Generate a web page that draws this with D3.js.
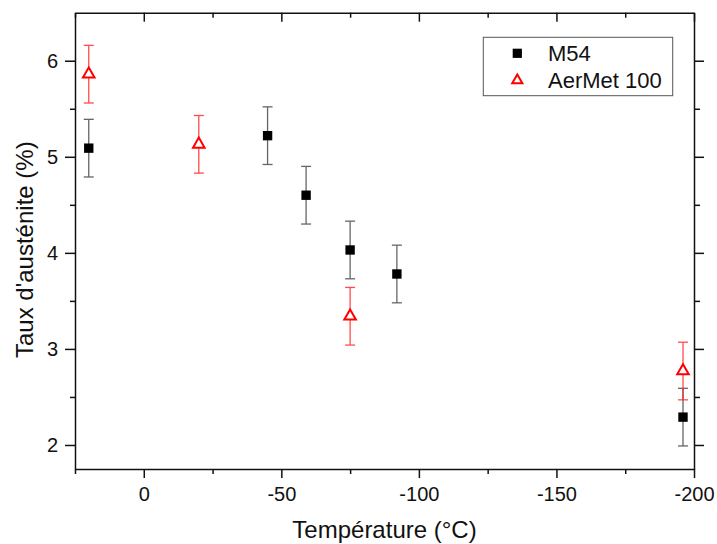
<!DOCTYPE html>
<html>
<head>
<meta charset="utf-8">
<script src="https://cdn.jsdelivr.net/npm/d3@7"></script>
<style>
  body { margin: 0; background: #fff; }
  svg text { font-family: "Liberation Sans", Arial, sans-serif; fill: #111; }
</style>
</head>
<body>
<div class="chart"></div>
<script>
// M54 (black squares)
const m54Temp = [20, -45, -59, -75, -92, -196];
const m54Value = [5.09, 5.22, 4.6, 4.03, 3.78, 2.29];
const m54Err = [0.3, 0.3, 0.3, 0.3, 0.3, 0.3];

// AerMet 100 (red triangles)
const aerTemp = [20, -20, -75, -196];
const aerValue = [5.86, 5.13, 3.34, 2.77];
const aerErr = [0.3, 0.3, 0.3, 0.3];

const xTicks = [0, -50, -100, -150, -200];
const yTicks = [2, 3, 4, 5, 6];
const legendNames = ["M54", "AerMet 100"];

var margin = { top: 12.7, right: 23, bottom: 75, left: 75 };
const width = 717 - margin.left - margin.right;
const height = 544 - margin.top - margin.bottom;

var svg = d3
  .select(".chart")
  .append("svg")
  .attr("width", 717)
  .attr("height", 544)
  .append("g")
  .attr("transform", "translate(" + margin.left + "," + margin.top + ")");

// scales
var x = d3.scaleLinear().domain([25, -200]).range([0, width]);
var y = d3.scaleLinear().domain([1.75, 6.5]).range([height, 0]);

const xMinor = d3.range(25, -201, -25).filter((d) => d % 50 !== 0);
const yMinor = d3.range(2.5, 6.5, 1);

// plain hyphen like the original, not the unicode minus
const fmt = (d) => String(d);

function styleAxis(g) {
  g.selectAll("path, line").attr("stroke", "#111").attr("stroke-width", 1.5);
  g.selectAll("text").style("font-size", "20px");
}

// bottom axis
svg.append("g")
  .attr("transform", "translate(0," + height + ")")
  .call(d3.axisBottom(x).tickValues(xTicks).tickSize(9).tickSizeOuter(0).tickPadding(9).tickFormat(fmt))
  .call(styleAxis);
svg.append("g")
  .attr("transform", "translate(0," + height + ")")
  .call(d3.axisBottom(x).tickValues(xMinor).tickSize(5).tickFormat(""))
  .call((g) => g.select(".domain").remove())
  .call(styleAxis);

// top axis (ticks inward)
svg.append("g")
  .call(d3.axisBottom(x).tickValues(xTicks).tickSize(9).tickSizeOuter(0).tickFormat(""))
  .call(styleAxis);
svg.append("g")
  .call(d3.axisBottom(x).tickValues(xMinor).tickSize(5).tickFormat(""))
  .call((g) => g.select(".domain").remove())
  .call(styleAxis);

// left axis
svg.append("g")
  .call(d3.axisLeft(y).tickValues(yTicks).tickSize(10).tickSizeOuter(0).tickPadding(7).tickFormat(fmt))
  .call(styleAxis);
svg.append("g")
  .call(d3.axisLeft(y).tickValues(yMinor).tickSize(5).tickFormat(""))
  .call((g) => g.select(".domain").remove())
  .call(styleAxis);

// right axis
svg.append("g")
  .attr("transform", "translate(" + width + ",0)")
  .call(d3.axisRight(y).tickValues(yTicks).tickSize(10).tickSizeOuter(0).tickFormat(""))
  .call(styleAxis);
svg.append("g")
  .attr("transform", "translate(" + width + ",0)")
  .call(d3.axisRight(y).tickValues(yMinor).tickSize(6).tickFormat(""))
  .call((g) => g.select(".domain").remove())
  .call(styleAxis);

// axis titles
svg.append("text")
  .attr("x", width / 2)
  .attr("y", height + 69)
  .attr("text-anchor", "middle")
  .style("font-size", "24px")
  .text("Température (°C)");

svg.append("text")
  .attr("transform", "translate(-42,237) rotate(-90)")
  .attr("text-anchor", "middle")
  .style("font-size", "24px")
  .text("Taux d'austénite (%)");

// error bars
function errorBars(temps, vals, errs, color, opacity) {
  const g = svg.append("g").attr("stroke", color).attr("stroke-width", 1.3).attr("opacity", opacity);
  temps.forEach((t, i) => {
    const cx = x(t);
    const y1 = y(vals[i] + errs[i]);
    const y2 = y(vals[i] - errs[i]);
    g.append("line").attr("x1", cx).attr("x2", cx).attr("y1", y1).attr("y2", y2);
    g.append("line").attr("x1", cx - 5).attr("x2", cx + 5).attr("y1", y1).attr("y2", y1);
    g.append("line").attr("x1", cx - 5).attr("x2", cx + 5).attr("y1", y2).attr("y2", y2);
  });
}

errorBars(m54Temp, m54Value, m54Err, "#333", 0.75);
errorBars(aerTemp, aerValue, aerErr, "#ff2020", 0.8);

const square = d3.symbol().type(d3.symbolSquare).size(88);
const triangle = d3.symbol().type(d3.symbolTriangle).size(58);

svg.append("g")
  .selectAll("path")
  .data(m54Temp)
  .enter()
  .append("path")
  .attr("d", square)
  .attr("transform", (d, i) => "translate(" + x(d) + "," + y(m54Value[i]) + ")")
  .attr("fill", "#000");

svg.append("g")
  .selectAll("path")
  .data(aerTemp)
  .enter()
  .append("path")
  .attr("d", triangle)
  .attr("transform", (d, i) => "translate(" + x(d) + "," + y(aerValue[i]) + ")")
  .attr("fill", "#fff")
  .attr("stroke", "#ff0000")
  .attr("stroke-width", 2);

// legend
const lx = 483.3 - margin.left;
const ly = 37.3 - margin.top;
const legend = svg.append("g").attr("transform", "translate(" + lx + "," + ly + ")");
legend.append("rect")
  .attr("width", 189.4)
  .attr("height", 58.4)
  .attr("fill", "#fff")
  .attr("stroke", "#555")
  .attr("stroke-width", 1);

legend.selectAll("legendSym")
  .data(legendNames)
  .enter()
  .append("path")
  .attr("d", (d, i) => (i === 0 ? d3.symbol().type(d3.symbolSquare).size(85)() : d3.symbol().type(d3.symbolTriangle).size(45)()))
  .attr("transform", (d, i) => "translate(34," + (16 + i * 27) + ")")
  .attr("fill", (d, i) => (i === 0 ? "#000" : "#fff"))
  .attr("stroke", (d, i) => (i === 0 ? "none" : "#ff0000"))
  .attr("stroke-width", 2);

legend.selectAll("legendLabels")
  .data(legendNames)
  .enter()
  .append("text")
  .attr("x", 64.7)
  .attr("y", (d, i) => 16 + i * 27)
  .attr("dy", "0.36em")
  .style("font-size", "22px")
  .text((d) => d);
</script>
</body>
</html>
